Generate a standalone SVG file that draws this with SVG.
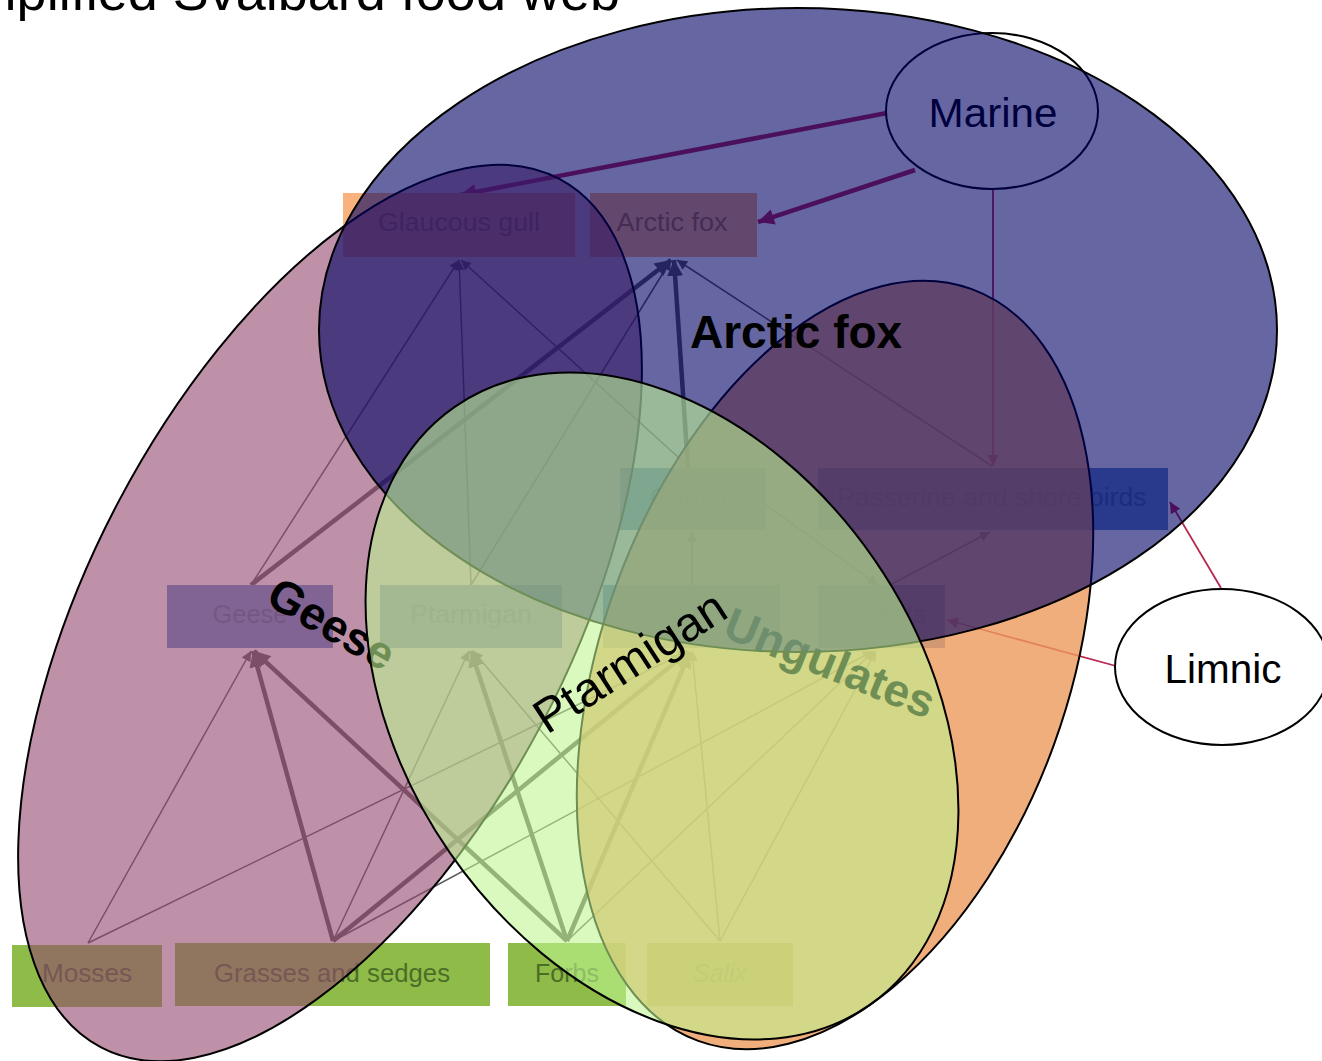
<svg xmlns="http://www.w3.org/2000/svg" width="1322" height="1061" viewBox="0 0 1322 1061">
  <style>
    .title { font-family: "Liberation Sans", Arial, sans-serif; font-size: 54px; fill: #000; }
    .box-o { fill: #f9b27c; }
    .box-b { fill: #6690c8; }
    .box-g { fill: #8fbc48; }
    .lbl { font-family: "Liberation Sans", Arial, sans-serif; font-size: 25px; text-anchor: middle; }
    .lbl-o { fill: #a8703f; }
    .lbl-b { fill: #4a6ea0; }
    .lbl-g { fill: #4a6e28; }
    .habitat { fill: #fff; stroke: #000; stroke-width: 2; }
    .habitat-lbl { font-family: "Liberation Sans", Arial, sans-serif; font-size: 40px; text-anchor: middle; fill: #000; }
    .e-thin { stroke: #5a5a5a; stroke-width: 1.5; fill: none; marker-end: url(#ah-thin); }
    .e-thick { stroke: #5a5a5a; stroke-width: 4.5; fill: none; marker-end: url(#ah-thick); }
    .m-thin { stroke: #b8284f; stroke-width: 1.8; fill: none; marker-end: url(#ah-red-thin); }
    .m-thick { stroke: #b8284f; stroke-width: 4.5; fill: none; marker-end: url(#ah-red-thick); }
    .ring { stroke: #000; stroke-width: 2; }
    .ring-lbl { font-family: "Liberation Sans", Arial, sans-serif; font-size: 46px; font-weight: bold; fill: #000; }
  </style>
  <defs>
    <marker id="ah-thin" viewBox="0 0 10 10" refX="10" refY="5" markerWidth="11" markerHeight="10" markerUnits="userSpaceOnUse" orient="auto">
      <path d="M0,0 L10,5 L0,10 z" fill="#5a5a5a"/>
    </marker>
    <marker id="ah-thick" viewBox="0 0 10 10" refX="10" refY="5" markerWidth="16" markerHeight="16" markerUnits="userSpaceOnUse" orient="auto">
      <path d="M0,0 L10,5 L0,10 z" fill="#5a5a5a"/>
    </marker>
    <marker id="ah-red-thin" viewBox="0 0 10 10" refX="10" refY="5" markerWidth="12" markerHeight="11" markerUnits="userSpaceOnUse" orient="auto">
      <path d="M0,0 L10,5 L0,10 z" fill="#b8284f"/>
    </marker>
    <marker id="ah-red-thick" viewBox="0 0 10 10" refX="10" refY="5" markerWidth="18" markerHeight="16" markerUnits="userSpaceOnUse" orient="auto">
      <path d="M0,0 L10,5 L0,10 z" fill="#b8284f"/>
    </marker>
  </defs>

  <rect width="1322" height="1061" fill="#fff"/>

  <!-- heading, partly above the top edge -->
  <text class="title" x="620" y="10" text-anchor="end">Simplified Svalbard food web</text>

  <!-- feeding links -->
  <g id="connectors">
    <path class="e-thin" d="M251,585 L459,260"/>
    <path class="e-thin" d="M471,585 L459,260"/>
    <path class="e-thin" d="M690,468 L461,260"/>
    <path class="e-thin" d="M471,585 L671,260"/>
    <path class="e-thin" d="M992,466 L677,260"/>
    <path class="e-thin" d="M692,585 L692,532"/>
    <path class="e-thin" d="M766,505 L878,585"/>
    <path class="e-thin" d="M890,585 L990,532"/>
    <path class="e-thin" d="M88,943 L251,651"/>
    <path class="e-thin" d="M88,943 L688,651"/>
    <path class="e-thin" d="M333,941 L469,651"/>
    <path class="e-thin" d="M333,941 L873,651"/>
    <path class="e-thin" d="M567,941 L874,651"/>
    <path class="e-thin" d="M720,941 L473,651"/>
    <path class="e-thin" d="M720,941 L692,651"/>
    <path class="e-thin" d="M720,941 L876,651"/>
    <path class="e-thick" d="M251,585 L671,260"/>
    <path class="e-thick" d="M688,468 L674,260"/>
    <path class="e-thick" d="M333,941 L253,651"/>
    <path class="e-thick" d="M567,941 L254,651"/>
    <path class="e-thick" d="M333,941 L688,652"/>
    <path class="e-thick" d="M567,941 L471,651"/>
    <path class="e-thick" d="M567,941 L690,652"/>
    <path class="m-thick" d="M887,113 L460,195"/>
    <path class="m-thick" d="M915,170 L758,222"/>
    <path class="m-thin" d="M993,190 L993,466"/>
    <path class="m-thin" d="M1221,588 L1170,502"/>
    <path class="m-thin" d="M1116,666 L947,620"/>
  </g>

  <!-- food web boxes -->
  <g id="node-glaucous-gull">
    <rect class="box-o" x="343" y="193" width="232" height="64"/>
    <text class="lbl lbl-o" x="459" y="231" textLength="162" lengthAdjust="spacingAndGlyphs">Glaucous gull</text>
  </g>
  <g id="node-arctic-fox">
    <rect class="box-o" x="590" y="193" width="167" height="64"/>
    <text class="lbl lbl-o" x="672" y="231" textLength="111" lengthAdjust="spacingAndGlyphs">Arctic fox</text>
  </g>
  <g id="node-carrion">
    <rect class="box-b" x="620" y="468" width="146" height="62"/>
    <text class="lbl lbl-b" x="693" y="506" textLength="86" lengthAdjust="spacingAndGlyphs">Carrion</text>
  </g>
  <g id="node-passerine">
    <rect class="box-b" x="818" y="468" width="350" height="62"/>
    <text class="lbl lbl-b" x="992" y="506" textLength="309" lengthAdjust="spacingAndGlyphs">Passerine and shore birds</text>
  </g>
  <g id="node-geese">
    <rect class="box-b" x="167" y="585" width="166" height="63"/>
    <text class="lbl lbl-b" x="250" y="623" textLength="75" lengthAdjust="spacingAndGlyphs">Geese</text>
  </g>
  <g id="node-ptarmigan">
    <rect class="box-b" x="380" y="585" width="182" height="63"/>
    <text class="lbl lbl-b" x="471" y="623" textLength="122" lengthAdjust="spacingAndGlyphs">Ptarmigan</text>
  </g>
  <g id="node-reindeer">
    <rect class="box-b" x="603" y="585" width="177" height="63"/>
    <text class="lbl lbl-b" x="691" y="623" textLength="103" lengthAdjust="spacingAndGlyphs">Reindeer</text>
  </g>
  <g id="node-insects">
    <rect class="box-b" x="818" y="585" width="127" height="63"/>
    <text class="lbl lbl-b" x="884" y="623" textLength="85" lengthAdjust="spacingAndGlyphs">Insects</text>
  </g>
  <g id="node-mosses">
    <rect class="box-g" x="12" y="945" width="150" height="62"/>
    <text class="lbl lbl-g" x="87" y="982" textLength="90" lengthAdjust="spacingAndGlyphs">Mosses</text>
  </g>
  <g id="node-grasses">
    <rect class="box-g" x="175" y="943" width="315" height="63"/>
    <text class="lbl lbl-g" x="332" y="982" textLength="236" lengthAdjust="spacingAndGlyphs">Grasses and sedges</text>
  </g>
  <g id="node-forbs">
    <rect class="box-g" x="508" y="943" width="118" height="63"/>
    <text class="lbl lbl-g" x="567" y="982" textLength="64" lengthAdjust="spacingAndGlyphs">Forbs</text>
  </g>
  <g id="node-salix">
    <rect class="box-g" x="647" y="943" width="146" height="63"/>
    <text class="lbl lbl-g" x="720" y="982" font-style="italic" textLength="54" lengthAdjust="spacingAndGlyphs">Salix</text>
  </g>
  <g id="node-marine">
    <ellipse class="habitat" cx="992" cy="111" rx="106" ry="78"/>
    <text class="habitat-lbl" x="993" y="127" textLength="129" lengthAdjust="spacingAndGlyphs">Marine</text>
  </g>
  <g id="node-limnic">
    <ellipse class="habitat" cx="1222" cy="667" rx="107" ry="78"/>
    <text class="habitat-lbl" x="1223" y="683" textLength="117" lengthAdjust="spacingAndGlyphs">Limnic</text>
  </g>

  <!-- consumer rings, translucent, stacked -->
  <g id="ring-geese">
    <ellipse class="ring" cx="330" cy="613" rx="491" ry="239" transform="rotate(-62.15 330 613)" fill="#934870" fill-opacity="0.6"/>
    <text class="ring-lbl" transform="translate(264 603) rotate(30)">Geese</text>
  </g>
  <g id="ring-ungulates">
    <ellipse class="ring" cx="835" cy="665" rx="400" ry="233" transform="rotate(-70 835 665)" fill="#ee9a5c" fill-opacity="0.8"/>
    <text class="ring-lbl" transform="translate(721 636) rotate(22)">Ungulates</text>
  </g>
  <g id="ring-arctic-fox">
    <ellipse class="ring" cx="798" cy="330" rx="479" ry="322" fill="#000064" fill-opacity="0.6"/>
    <text class="ring-lbl" x="690" y="348" font-size="47.5">Arctic fox</text>
  </g>
  <g id="ring-ptarmigan">
    <ellipse class="ring" cx="662" cy="706" rx="364" ry="258" transform="rotate(55.35 662 706)" fill="#bef591" fill-opacity="0.58"/>
    <text transform="translate(547 735) rotate(-33)" font-family="Liberation Sans, Arial, sans-serif" font-size="48" fill="#000">Ptarmigan</text>
  </g>
</svg>
